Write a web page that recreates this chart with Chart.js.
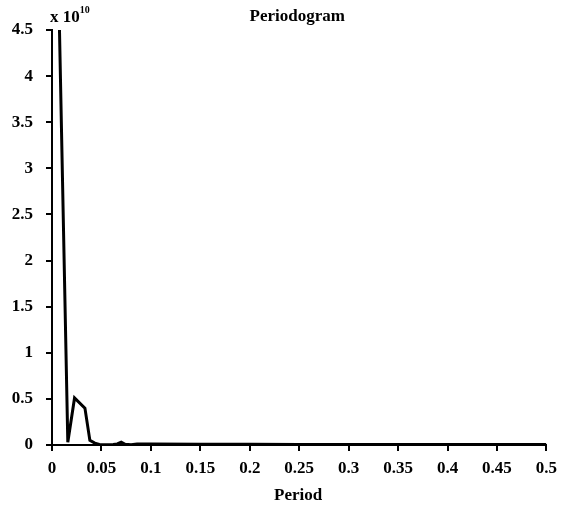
<!DOCTYPE html>
<html>
<head>
<meta charset="utf-8">
<script src="https://cdn.jsdelivr.net/npm/chart.js@4/dist/chart.umd.min.js"></script>
<style>
  html, body { margin: 0; padding: 0; background: #fff; }
  #wrap { width: 564px; height: 508px; position: relative; }
</style>
</head>
<body>
<div id="wrap"><canvas id="c" width="564" height="508"></canvas></div>
<script>
// Frequency values (x axis, "Period")
const frequency = [0.0053, 0.016, 0.0228, 0.0333, 0.0383, 0.0433, 0.048, 0.055, 0.062, 0.066, 0.070, 0.074, 0.080, 0.086, 0.10, 0.15, 0.20, 0.25, 0.30, 0.35, 0.40, 0.45, 0.50];
// Power values, in units of 1e10
const power = [5.7, 0.03, 0.51, 0.40, 0.05, 0.02, 0.006, 0.004, 0.005, 0.012, 0.03, 0.008, 0.004, 0.012, 0.01, 0.008, 0.007, 0.006, 0.006, 0.005, 0.005, 0.005, 0.005];
const xTicks = [0, 0.05, 0.1, 0.15, 0.2, 0.25, 0.3, 0.35, 0.4, 0.45, 0.5];
const yTicks = [0, 0.5, 1, 1.5, 2, 2.5, 3, 3.5, 4, 4.5];
const titleText = 'Periodogram';
const xLabel = 'Period';

const FONT = "'Liberation Serif', 'Times New Roman', serif";

const textPlugin = {
  id: 'texts',
  afterDraw(chart) {
    const ctx = chart.ctx;
    const a = chart.chartArea;
    ctx.save();
    ctx.fillStyle = '#000';
    ctx.textBaseline = 'alphabetic';
    // title
    ctx.font = "bold 17px " + FONT;
    ctx.textAlign = 'center';
    ctx.fillText(titleText, (a.left + a.right) / 2 - 2, 21);
    // x label
    ctx.fillText(xLabel, (a.left + a.right) / 2 - 1, 500);
    // exponent label
    ctx.textAlign = 'left';
    ctx.font = "bold 17px " + FONT;
    ctx.fillText('x 10', a.left - 2, 22);
    const w = ctx.measureText('x 10').width;
    ctx.font = "bold 10px " + FONT;
    ctx.fillText('10', a.left - 2 + w, 13);
    ctx.restore();
  }
};

new Chart(document.getElementById('c'), {
  type: 'line',
  data: {
    datasets: [{
      data: frequency.map((f, i) => ({ x: f, y: power[i] })),
      borderColor: '#000',
      borderWidth: 3,
      pointRadius: 0,
      tension: 0,
      fill: false
    }]
  },
  options: {
    responsive: false,
    animation: false,
    devicePixelRatio: 1,
    layout: { padding: { top: 30, right: 12, left: 0, bottom: 0 } },
    plugins: { legend: { display: false }, tooltip: { enabled: false }, title: { display: false } },
    scales: {
      x: {
        type: 'linear',
        min: 0, max: 0.5,
        afterFit(s) { s.height = 63; },
        afterBuildTicks(s) { s.ticks = xTicks.map(v => ({ value: v })); },
        border: { display: true, color: '#000', width: 2 },
        grid: { drawOnChartArea: false, drawTicks: true, tickLength: 6, color: '#000', lineWidth: 2 },
        ticks: {
          color: '#000', padding: 7, maxRotation: 0, autoSkip: false,
          font: { family: FONT, size: 17, weight: 'bold' },
          callback: v => String(v)
        }
      },
      y: {
        type: 'linear',
        min: 0, max: 4.5,
        afterFit(s) { s.width = 52; },
        afterBuildTicks(s) { s.ticks = yTicks.map(v => ({ value: v })); },
        border: { display: true, color: '#000', width: 2 },
        grid: { drawOnChartArea: false, drawTicks: true, tickLength: 6, color: '#000', lineWidth: 2 },
        ticks: {
          color: '#000', padding: 13, autoSkip: false,
          font: { family: FONT, size: 17, weight: 'bold' },
          callback: v => String(v)
        }
      }
    }
  },
  plugins: [textPlugin]
});
</script>
</body>
</html>
